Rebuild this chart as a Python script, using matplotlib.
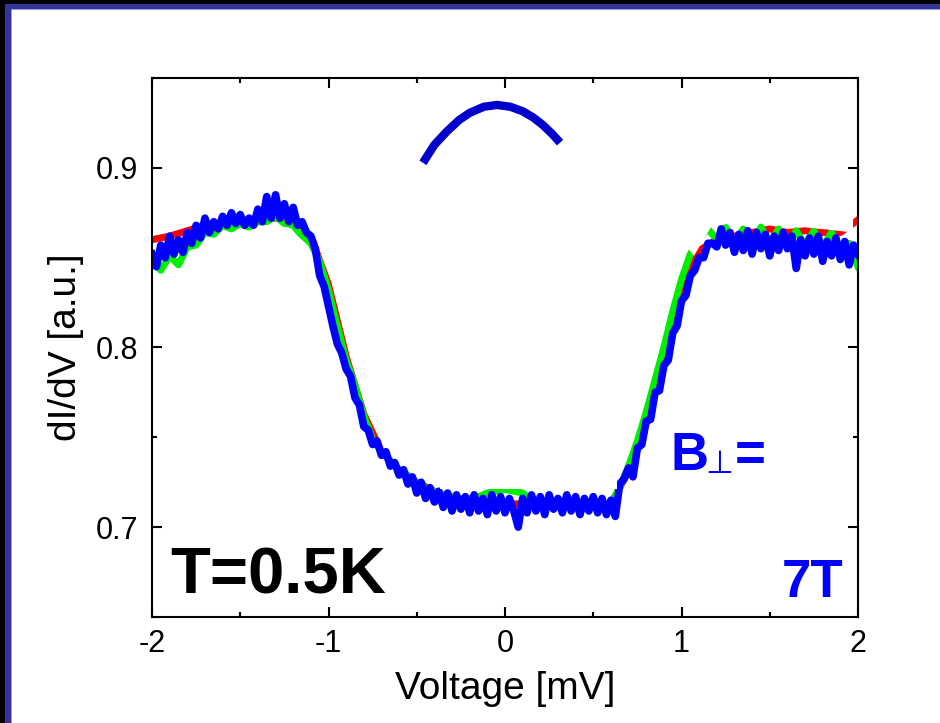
import numpy as np
import matplotlib
matplotlib.use('Agg')
import matplotlib.pyplot as plt
from matplotlib.patches import Rectangle, Polygon
from matplotlib.ticker import MultipleLocator

plt.rcParams['font.family'] = ['Liberation Sans', 'DejaVu Sans']

# blue trace (7T) on a regular voltage grid
blue_y = [
    0.852, 0.845, 0.857, 0.850, 0.862, 0.852, 0.860, 0.853, 0.864, 0.858,
    0.868, 0.861, 0.872, 0.864, 0.870, 0.866, 0.873, 0.868, 0.875, 0.869,
    0.874, 0.868, 0.872, 0.868, 0.877, 0.870, 0.884, 0.872, 0.885, 0.872,
    0.880, 0.870, 0.878,
    0.868, 0.870, 0.864, 0.862, 0.855, 0.840, 0.834, 0.823, 0.812, 0.802,
    0.797, 0.788, 0.784, 0.772, 0.768, 0.756, 0.754, 0.746, 0.748, 0.740,
    0.742, 0.734, 0.736, 0.729, 0.732, 0.724, 0.728, 0.719, 0.725, 0.716,
    0.722, 0.714, 0.720, 0.711, 0.719, 0.709, 0.718, 0.710, 0.717, 0.708,
    0.718, 0.709, 0.716, 0.707, 0.718, 0.709, 0.717, 0.708, 0.716, 0.709,
    0.700, 0.716, 0.708, 0.718, 0.709, 0.717, 0.707, 0.718, 0.710, 0.716,
    0.708, 0.718, 0.709, 0.717, 0.707, 0.716, 0.709, 0.717, 0.708, 0.716,
    0.707, 0.715, 0.706, 0.724, 0.727, 0.733, 0.728, 0.744, 0.746, 0.759,
    0.760, 0.775, 0.776, 0.790, 0.793, 0.808, 0.812, 0.826, 0.829, 0.840,
    0.843, 0.850, 0.850, 0.858, 0.858, 0.856, 0.866, 0.857, 0.864, 0.853,
    0.863, 0.854, 0.865, 0.852, 0.864, 0.855, 0.863, 0.851, 0.862, 0.854,
    0.864, 0.855, 0.862, 0.844, 0.860, 0.851, 0.861, 0.852, 0.862, 0.848,
    0.859, 0.851, 0.861, 0.849, 0.859, 0.846, 0.857, 0.852,
]
blue_x = np.linspace(-2, 2, len(blue_y))

green_y = [
    0.848, 0.843, 0.851, 0.846, 0.856, 0.857, 0.864, 0.863, 0.868, 0.866,
    0.869, 0.867, 0.870, 0.870, 0.873, 0.869, 0.868, 0.862, 0.858, 0.848,
    0.832, 0.812, 0.793, 0.779, 0.762, 0.749, 0.742, 0.737, 0.732, 0.729,
    0.725, 0.722, 0.720, 0.718, 0.717, 0.716, 0.716, 0.717, 0.719, 0.720,
    0.721, 0.720, 0.719, 0.715, 0.714, 0.713, 0.713, 0.713, 0.713, 0.712,
    0.712, 0.712, 0.713, 0.722, 0.734, 0.748, 0.764, 0.782, 0.800, 0.820,
    0.838, 0.852, 0.861, 0.866, 0.860, 0.867, 0.858, 0.866, 0.857, 0.867,
    0.858, 0.866, 0.856, 0.865, 0.857, 0.865, 0.856, 0.864, 0.855, 0.858,
    0.845,
]
green_x = np.linspace(-2, 2, len(green_y))

red_y = [
    0.860, 0.862, 0.865, 0.868, 0.869, 0.870, 0.871, 0.872, 0.870, 0.862,
    0.835, 0.795, 0.763, 0.742, 0.732, 0.725, 0.720, 0.716, 0.715, 0.714,
    0.713, 0.713, 0.713, 0.713, 0.713, 0.712, 0.713, 0.731, 0.760, 0.795,
    0.832, 0.854, 0.860, 0.862, 0.864, 0.866, 0.864, 0.865, 0.864, 0.864,
    0.871,
]
red_x = np.linspace(-2, 2, len(red_y))

# arc drawn above the 0 mV region
arc_x = [-0.465, -0.40, -0.33, -0.26, -0.20, -0.12, -0.045, 0.03, 0.10,
         0.16, 0.215, 0.27, 0.312]
arc_y = [0.9028, 0.9128, 0.9202, 0.9266, 0.9306, 0.9340, 0.9350, 0.9340,
         0.9315, 0.9280, 0.9238, 0.9186, 0.9140]

# white patches that hide parts of the traces in the original
mask_left_x = [-1.813, -1.626, -1.229, -1.13, -1.16, -1.85, -1.85]
mask_left_y = [0.846, 0.860, 0.867, 0.858, 0.800, 0.800, 0.835]
mask_mid_x = [-0.37, 0.635, 0.635, -0.37]
mask_mid_y = [0.7215, 0.7215, 0.730, 0.730]
mask_right_x = [1.07, 1.173, 1.433, 1.972, 1.972, 1.0, 1.0]
mask_right_y = [0.851, 0.868, 0.870, 0.864, 0.895, 0.895, 0.860]

W, H = 940, 723
fig = plt.figure(figsize=(W / 100, H / 100), dpi=100)
fig.patch.set_facecolor('white')

# slide frame (top and left edges)
fig.add_artist(Rectangle((0, 1 - 10 / H), 1, 10 / H, transform=fig.transFigure,
                         facecolor='#9999cc', edgecolor='none'))
fig.add_artist(Rectangle((0, 0), 12 / W, 1, transform=fig.transFigure,
                         facecolor='#9999cc', edgecolor='none'))
fig.add_artist(Rectangle((0, 1 - 9 / H), 1, 9 / H, transform=fig.transFigure,
                         facecolor='#333399', edgecolor='none'))
fig.add_artist(Rectangle((0, 0), 11 / W, 1, transform=fig.transFigure,
                         facecolor='#333399', edgecolor='none'))
fig.add_artist(Rectangle((0, 1 - 4 / H), 1, 4 / H, transform=fig.transFigure,
                         facecolor='black', edgecolor='none'))
fig.add_artist(Rectangle((0, 0), 5 / W, 1, transform=fig.transFigure,
                         facecolor='black', edgecolor='none'))

ax = fig.add_axes([152 / W, (H - 617) / H, 706 / W, 539 / H])

ax.plot(red_x, red_y, color='#ff0000', lw=5, zorder=2)
ax.plot(green_x, green_y, color='#00ee00', lw=5, zorder=2.05)
ax.plot(blue_x, blue_y, color='#0000ff', lw=5.5, zorder=2.1)

for mx, my in [(mask_left_x, mask_left_y), (mask_mid_x, mask_mid_y),
               (mask_right_x, mask_right_y)]:
    ax.add_patch(Polygon(np.column_stack([mx, my]), closed=True,
                         facecolor='white', edgecolor='none', zorder=2.2))

ax.plot(arc_x, arc_y, color='#0000cc', lw=6, solid_capstyle='butt', zorder=3)

ax.set_xlim(-2, 2)
ax.set_ylim(0.65, 0.95)
ax.xaxis.set_minor_locator(MultipleLocator(0.5))
ax.yaxis.set_minor_locator(MultipleLocator(0.05))
ax.set_xticks([-2, -1, 0, 1, 2])
ax.set_xticklabels(['-2', '-1', '0', '1', '2'])
ax.set_yticks([0.7, 0.8, 0.9])
ax.set_yticklabels(['0.7', '0.8', '0.9'])

ax.tick_params(which='both', direction='in', top=True, right=True,
               width=1.5, colors='black', labelsize=22)
ax.tick_params(which='major', length=7.5)
ax.tick_params(which='minor', length=3.8)
ax.tick_params(axis='x', pad=9)
ax.tick_params(axis='y', pad=10)
for s in ax.spines.values():
    s.set_linewidth(1.5)

ax.set_xlabel('Voltage [mV]', fontsize=28, labelpad=8)
ax.set_ylabel('dI/dV [a.u.]', fontsize=28, labelpad=8)

ax.text(-1.895, 0.6633, 'T=0.5K', fontsize=47, fontweight='bold',
        color='black', ha='left', va='baseline')
ax.text(0.935, 0.7317, 'B', fontsize=38, fontweight='bold',
        color='#0000ff', ha='left', va='baseline')
ax.text(1.135, 0.7302, '\u22a5', fontsize=23, color='#0000ff',
        ha='left', va='baseline', family=['DejaVu Sans'])
ax.text(1.30, 0.7317, '=', fontsize=38, fontweight='bold',
        color='#0000ff', ha='left', va='baseline')
ax.text(1.92, 0.6611, '7T', fontsize=38, fontweight='bold',
        color='#0000ff', ha='right', va='baseline')

fig.savefig('out.png', dpi=100)
